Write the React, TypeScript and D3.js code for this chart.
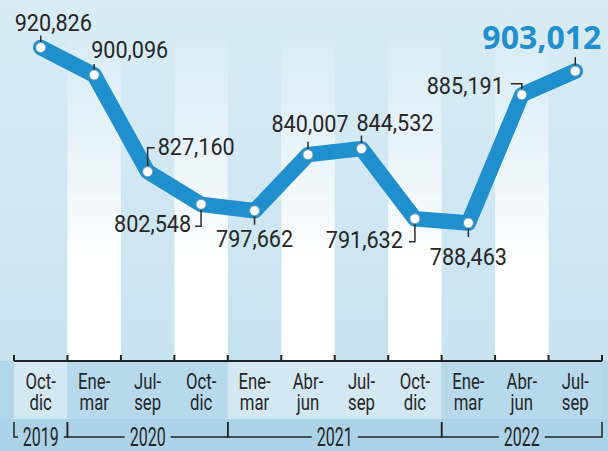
import React from "react";
import * as d3 from "d3";

const periods: string[][] = [
  ["Oct-", "dic"], ["Ene-", "mar"], ["Jul-", "sep"], ["Oct-", "dic"],
  ["Ene-", "mar"], ["Abr-", "jun"], ["Jul-", "sep"], ["Oct-", "dic"],
  ["Ene-", "mar"], ["Abr-", "jun"], ["Jul-", "sep"],
];
const values: number[] = [
  920826, 900096, 827160, 802548, 797662, 840007, 844532, 791632, 788463, 885191, 903012,
];
const valueLabels: string[] = [
  "920,826", "900,096", "827,160", "802,548", "797,662", "840,007", "844,532",
  "791,632", "788,463", "885,191", "903,012",
];
const years: string[] = ["2019", "2020", "2021", "2022"];
const yearSpans: number[][] = [[0, 1], [1, 4], [4, 8], [8, 11]]; // column index ranges

// label placement (layout only)
type Place = { hi: boolean; dx: number; dy: number; anchor: string; lead: number[][] };
const placements: Place[] = [
  { hi: false, dx: -26, dy: -17, anchor: "start", lead: [[0, -5], [0, -12]] },
  { hi: false, dx: -3, dy: -17, anchor: "start", lead: [[0, -5], [0, -11]] },
  { hi: false, dx: 10, dy: -17, anchor: "start", lead: [[0, -5], [0, -24], [7, -24]] },
  { hi: false, dx: -10, dy: 28, anchor: "end", lead: [[0, 5], [0, 22], [-6, 22]] },
  { hi: false, dx: 0, dy: 36, anchor: "middle", lead: [[0, 5], [0, 14]] },
  { hi: false, dx: 2, dy: -23, anchor: "middle", lead: [[0, -5], [0, -13]] },
  { hi: false, dx: -5, dy: -18, anchor: "start", lead: [[0, -5], [0, -13]] },
  { hi: false, dx: -12, dy: 29, anchor: "end", lead: [[0, 5], [0, 23], [-6, 23]] },
  { hi: false, dx: 0, dy: 42, anchor: "middle", lead: [[0, 5], [0, 14]] },
  { hi: false, dx: -18, dy: -1, anchor: "end", lead: [[0, -5], [0, -11], [-11, -11]] },
  { hi: true, dx: 26, dy: -22, anchor: "end", lead: [[0, -5], [0, -14]] },
];

const W = 608;
const H = 451;
const X0 = 14;
const X1 = 602;
const AXIS_Y = 361;
const BAND_Y1 = 419;
const FONT = "Roboto, 'Noto Sans', sans-serif";
const DARK = "#262626";

function CText(props: {
  x: number; y: number; anchor: string; size: number; sx: number;
  children: React.ReactNode; fill?: string; weight?: number; family?: string;
}) {
  const { x, y, anchor, size, sx, children, fill, weight, family } = props;
  return (
    <g transform={`translate(${x},${y}) scale(${sx},1)`}>
      <text x={0} y={0} textAnchor={anchor} fontFamily={family || FONT} fontSize={size}
        fontWeight={weight || 400} fill={fill || DARK}>{children}</text>
    </g>
  );
}

export default function App() {
  const n = values.length;
  const band = d3.scaleBand<number>().domain(d3.range(n)).range([X0, X1]).padding(0);
  const bw = band.bandwidth();
  const cx = (i: number) => (band(i) as number) + bw / 2;
  const y = d3.scaleLinear().domain([788463, 920826]).range([223, 47.5]);
  const line = d3.line<number>().x((_, i) => cx(i)).y((v) => y(v)).curve(d3.curveLinear);

  const stripes: { x0: number; x1: number; blue: boolean }[] = [];
  for (let i = 0; i < n; i++) {
    let x0 = band(i) as number;
    let x1 = x0 + bw;
    if (i === 0) x0 = 0;
    if (i === n - 1) x1 = W;
    stripes.push({ x0, x1, blue: i % 2 === 0 });
  }

  const bandColors = ["#d3e8f3", "#b6d9eb", "#d3e8f3", "#b6d9eb"];

  return (
    <svg width={W} height={H} style={{ position: "absolute", left: 0, top: 0, display: "block" }}>
      <defs>
        <linearGradient id="wfade" x1="0" y1="0" x2="0" y2={AXIS_Y} gradientUnits="userSpaceOnUse">
          <stop offset="0.08" stopColor="#ffffff" stopOpacity={0} />
          <stop offset="0.72" stopColor="#ffffff" stopOpacity={1} />
          <stop offset="1" stopColor="#ffffff" stopOpacity={1} />
        </linearGradient>
        <linearGradient id="bfade" x1="0" y1="0" x2="0" y2={AXIS_Y} gradientUnits="userSpaceOnUse">
          <stop offset="0" stopColor="#d9ecf6" />
          <stop offset="1" stopColor="#c8e3f0" />
        </linearGradient>
      </defs>
      <rect x={0} y={0} width={W} height={AXIS_Y} fill="url(#bfade)" />
      {stripes.map((s, i) =>
        s.blue ? null : (
          <rect key={i} x={s.x0} y={0} width={s.x1 - s.x0} height={AXIS_Y} fill="url(#wfade)" />
        )
      )}
      <rect x={0} y={AXIS_Y} width={W} height={H - AXIS_Y} fill="#b2d6ea" />
      {yearSpans.map((sp, k) => {
        const a = band(sp[0]) as number;
        const b = sp[1] >= n ? X1 : (band(sp[1]) as number);
        return <rect key={k} x={a} y={AXIS_Y} width={b - a} height={BAND_Y1 - AXIS_Y} fill={bandColors[k]} />;
      })}
      <rect x={0} y={BAND_Y1} width={W} height={H - BAND_Y1} fill="#add3e8" />

      <line x1={X0} x2={X1} y1={AXIS_Y} y2={AXIS_Y} stroke="#222" strokeWidth={2} />
      {d3.range(n + 1).map((i) => {
        const x = i === n ? X1 : (band(i) as number);
        return <line key={i} x1={x} x2={x} y1={AXIS_Y - 6} y2={AXIS_Y} stroke="#222" strokeWidth={2} />;
      })}

      {periods.map((p, i) => (
        <CText key={i} x={cx(i)} y={389} anchor="middle" size={22} sx={0.76}>
          <tspan x={0} y={0}>{p[0]}</tspan>
          <tspan x={0} y={21}>{p[1]}</tspan>
        </CText>
      ))}

      {yearSpans.map((sp, k) => {
        const a = band(sp[0]) as number;
        const b = sp[1] >= n ? X1 : (band(sp[1]) as number);
        const c = (a + b) / 2;
        const tw = 36;
        const ly = 437;
        return (
          <g key={k}>
            <path d={`M${a},${ly - 15}V${ly}H${Math.max(a + 4, c - tw / 2 - 5)}`} stroke="#222" strokeWidth={1.5} fill="none" />
            <path d={`M${Math.min(b - 3, c + tw / 2 + 5)},${ly}H${b}V${ly - 15}`} stroke="#222" strokeWidth={1.5} fill="none" />
            <CText x={c} y={446} anchor="middle" size={25} sx={0.64}>{years[k]}</CText>
          </g>
        );
      })}

      <path d={line(values) as string} fill="none" stroke="#1f8fcd" strokeWidth={15.5} strokeLinejoin="round" strokeLinecap="round" />

      {values.map((v, i) => {
        const px = cx(i);
        const py = y(v);
        const pl = placements[i];
        const d = pl.lead.map((p, j) => `${j === 0 ? "M" : "L"}${px + p[0]},${py + p[1]}`).join("");
        return (
          <g key={i}>
            <path d={d} fill="none" stroke="#2a2a2a" strokeWidth={1.5} />
            <circle cx={px} cy={py} r={5} fill="#fbfdfe" stroke="#6e9cbb" strokeWidth={1} />
            {pl.hi ? (
              <CText x={px + pl.dx} y={py + pl.dy} anchor={pl.anchor} size={32} sx={1}
                family="'Open Sans', sans-serif" weight={700} fill="#1f8fcd">{valueLabels[i]}</CText>
            ) : (
              <CText x={px + pl.dx} y={py + pl.dy} anchor={pl.anchor} size={24} sx={0.9}>{valueLabels[i]}</CText>
            )}
          </g>
        );
      })}
    </svg>
  );
}
